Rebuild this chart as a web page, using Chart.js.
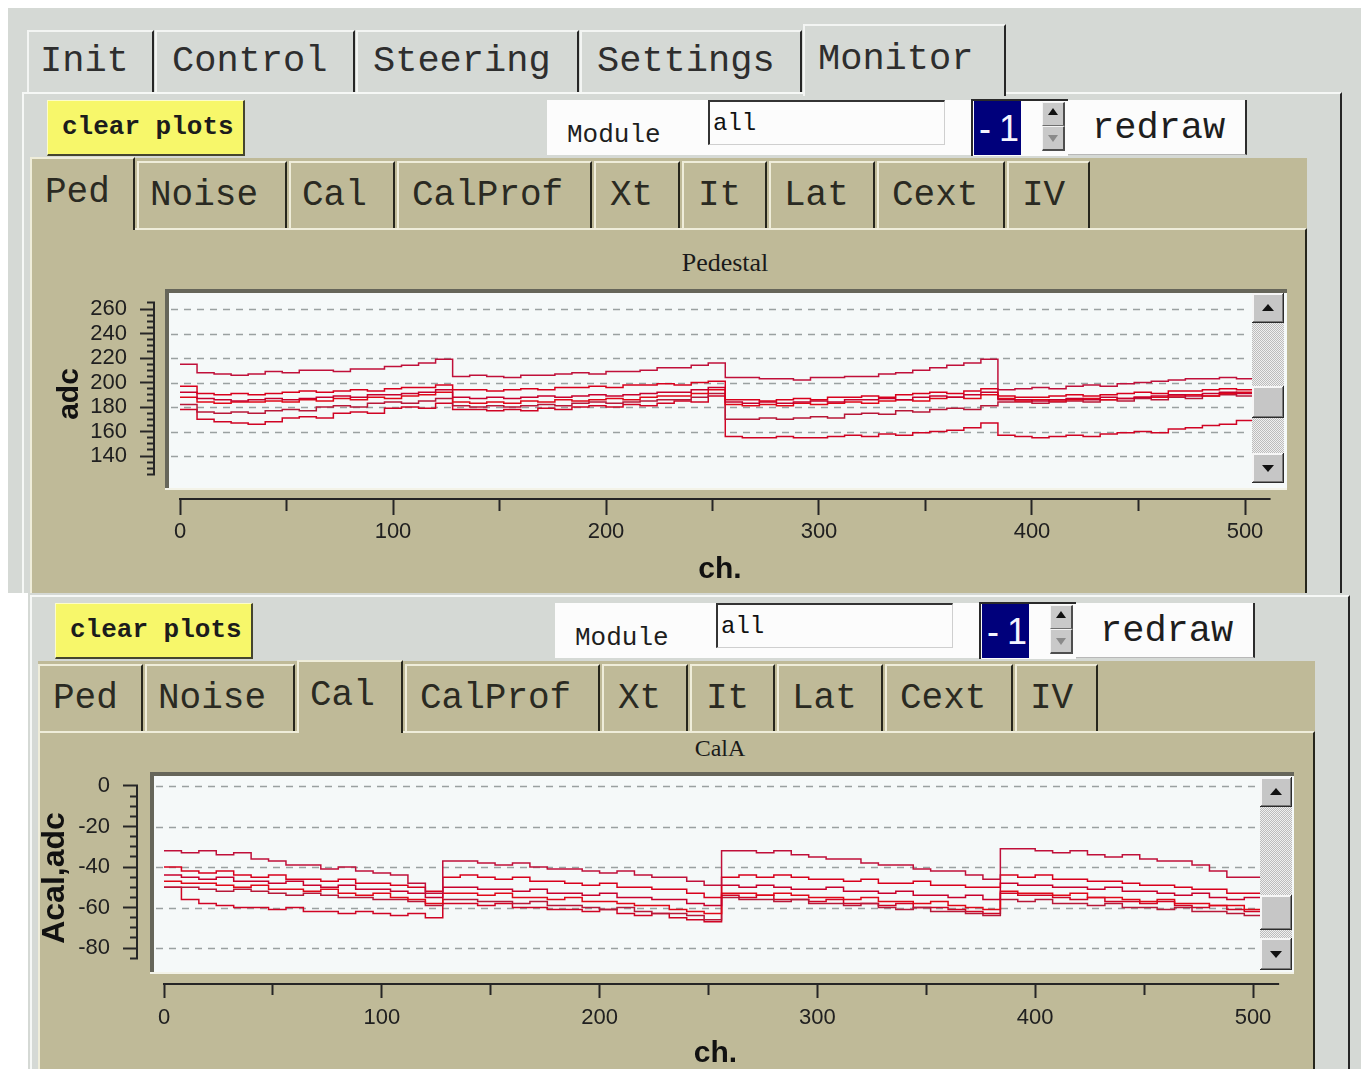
<!DOCTYPE html>
<html>
<head>
<meta charset="utf-8">
<title>Monitor - Pedestal / CalA</title>
<script src="https://cdn.jsdelivr.net/npm/chart.js@4.4.1/dist/chart.umd.min.js"></script>
<style>
  html, body { margin:0; padding:0; }
  body { width:1361px; height:1069px; overflow:hidden; position:relative; background:#ffffff;
         font-family:"Liberation Mono", monospace; color:#2b2b2b; }
  .a { position:absolute; box-sizing:border-box; }
  .t { position:absolute; white-space:nowrap; line-height:1; }
  canvas { position:absolute; }
</style>
</head>
<body>
<script>
// ---------------- data ----------------
const channels = [0,8,16,24,32,40,48,56,64,72,80,88,96,104,112,120,
  128,136,144,152,160,168,176,184,192,200,208,216,224,232,240,248,
  256,264,272,280,288,296,304,312,320,328,336,344,352,360,368,376,
  384,392,400,408,416,424,432,440,448,456,464,472,480,488,496,504,511];

// Pedestal (adc)
const ped1 = [215,208,207,206,207,209,208,210,210,209,211,211,213,214,216,219,
  205,206,205,204,206,206,207,208,207,209,209,210,212,212,214,216,
  204,204,203,203,202,204,204,205,205,207,208,210,212,214,216,219,
  194,195,196,195,197,198,197,199,200,201,202,203,203,204,203,205,204];
const ped2 = [197,191,190,191,190,191,192,193,192,193,194,193,195,196,196,198,
  194,194,193,194,195,194,196,196,197,196,198,198,199,198,200,201,
  186,186,185,186,187,186,188,188,189,188,190,191,192,191,193,195,
  189,188,188,189,190,189,190,191,192,191,193,193,194,195,194,196,196];
const ped3 = [192,187,186,185,186,187,186,187,188,189,188,190,190,191,192,194,
  188,187,188,187,188,189,188,189,190,189,190,191,192,192,194,196,
  184,183,184,183,184,185,184,186,186,187,186,188,189,188,190,192,
  186,186,185,186,187,186,188,187,188,189,190,189,191,192,191,193,193];
const ped4 = [188,184,183,184,184,185,184,186,185,187,186,188,187,189,190,192,
  184,183,184,183,185,184,186,185,186,187,186,188,189,189,191,194,
  182,181,182,181,183,182,183,184,183,185,186,185,187,188,187,190,
  187,185,186,185,186,187,186,187,188,188,189,190,189,191,192,192,191];
const ped5 = [182,176,175,176,175,177,178,177,180,181,180,183,184,183,185,187,
  181,180,181,180,181,182,181,183,184,183,184,185,186,186,188,191,
  170,170,171,170,171,172,171,174,175,174,177,176,178,179,178,181,
  184,184,183,184,185,184,186,185,187,186,188,187,189,190,189,191,190];
const ped6 = [178,170,168,167,166,168,171,172,171,175,176,175,179,180,179,183,
  178,178,177,178,177,179,178,180,181,180,182,181,183,185,184,189,
  156,155,155,156,155,155,156,157,156,158,157,159,160,161,163,167,
  157,156,155,156,157,156,158,159,160,159,162,163,165,166,169,171,172];

// CalA (Acal, adc)
const cal1 = [-32,-33,-32,-34,-33,-36,-37,-39,-39,-41,-40,-42,-43,-44,-48,-53,
  -37,-37,-38,-39,-38,-40,-41,-41,-42,-43,-42,-44,-45,-45,-47,-49,
  -32,-32,-33,-32,-34,-35,-36,-36,-38,-39,-39,-41,-42,-42,-44,-46,
  -31,-31,-32,-33,-32,-34,-35,-34,-36,-37,-37,-39,-42,-45,-45,-48,-49];
const cal2 = [-40,-42,-43,-42,-44,-45,-44,-46,-46,-47,-46,-48,-48,-49,-50,-52,
  -45,-44,-45,-46,-45,-47,-47,-48,-49,-48,-50,-50,-51,-51,-53,-55,
  -45,-44,-45,-44,-45,-46,-46,-47,-46,-48,-48,-47,-49,-49,-50,-50,
  -44,-45,-44,-46,-46,-47,-47,-48,-49,-49,-50,-51,-51,-53,-53,-54,-55];
const cal3 = [-44,-45,-46,-45,-47,-47,-48,-47,-49,-50,-49,-51,-51,-52,-53,-55,
  -50,-50,-51,-51,-52,-51,-53,-53,-54,-53,-55,-55,-56,-56,-58,-59,
  -49,-50,-49,-50,-51,-51,-50,-52,-52,-53,-52,-54,-54,-55,-54,-56,
  -48,-49,-49,-50,-50,-51,-50,-52,-52,-53,-54,-53,-55,-56,-55,-57,-58];
const cal4 = [-47,-48,-48,-49,-50,-49,-51,-51,-52,-51,-53,-54,-53,-55,-56,-58,
  -53,-53,-54,-53,-55,-55,-56,-55,-57,-57,-58,-59,-59,-61,-62,-63,
  -53,-53,-54,-53,-54,-55,-55,-56,-55,-57,-57,-58,-57,-59,-60,-61,
  -52,-53,-53,-54,-53,-55,-55,-56,-57,-56,-58,-58,-59,-59,-61,-61,-61];
const cal5 = [-50,-50,-51,-52,-51,-52,-53,-54,-53,-54,-55,-55,-56,-56,-57,-59,
  -56,-56,-57,-57,-58,-57,-59,-59,-60,-61,-60,-62,-63,-63,-64,-66,
  -55,-56,-56,-57,-56,-58,-58,-59,-58,-60,-61,-60,-62,-62,-63,-64,
  -56,-57,-56,-58,-58,-59,-58,-60,-60,-61,-60,-62,-62,-63,-64,-64,-65];
const cal6 = [-50,-56,-58,-59,-60,-60,-61,-60,-62,-62,-63,-62,-63,-64,-63,-65,
  -58,-58,-59,-58,-60,-60,-61,-61,-62,-61,-63,-64,-63,-65,-66,-67,
  -54,-55,-54,-56,-56,-57,-56,-58,-58,-59,-58,-60,-60,-61,-62,-63,
  -53,-54,-54,-55,-56,-55,-57,-57,-58,-57,-59,-60,-59,-61,-62,-62,-62];

const pedSeries = [ped1, ped2, ped3, ped4, ped5, ped6];
const calSeries = [cal1, cal2, cal3, cal4, cal5, cal6];
const lineColors = ['#c0103a', '#d8001c', '#c8002c', '#e00818', '#b81838', '#d00424'];

const xTickLabels = ['0', '100', '200', '300', '400', '500'];
const pedYTickLabels = ['140', '160', '180', '200', '220', '240', '260'];
const calYTickLabels = ['-80', '-60', '-40', '-20', '0'];

const topTabs = ['Init', 'Control', 'Steering', 'Settings', 'Monitor'];
const subTabs = ['Ped', 'Noise', 'Cal', 'CalProf', 'Xt', 'It', 'Lat', 'Cext', 'IV'];
const moduleLabel = 'Module';
const moduleValue = 'all';
const moduleIndex = '- 1';

// ---------------- GUI helpers ----------------
const GRAY = '#d5d9d5', TAN = '#bfba98', TAN_LIGHT = '#efedda', DARK = '#262626';
function box(x, y, w, h, css) {
  const d = document.createElement('div'); d.className = 'a';
  d.style.cssText = `left:${x}px;top:${y}px;width:${w}px;height:${h}px;` + (css || '');
  document.body.appendChild(d); return d;
}
function txt(s, x, y, css) {
  const d = document.createElement('div'); d.className = 't'; d.textContent = s;
  d.style.cssText = `left:${x}px;top:${y}px;` + (css || '');
  document.body.appendChild(d); return d;
}
function canvasAt(id, x, y, w, h) {
  const c = document.createElement('canvas'); c.id = id; c.width = w; c.height = h;
  c.style.cssText = `left:${x}px;top:${y}px;width:${w}px;height:${h}px;`;
  document.body.appendChild(c); return c;
}

function buildTopTabs() {
  box(8, 8, 1353, 585, 'background:' + GRAY + ';');
  const L = [27, 155, 356, 580, 803], R = [154, 355, 579, 802, 1006], TX = [40, 172, 373, 597, 818];
  topTabs.forEach((name, i) => {
    const sel = (name === 'Monitor');
    const top = sel ? 24 : 30, h = sel ? 72 : 62;
    box(L[i], top, R[i] - L[i], h, 'background:' + GRAY + ';border-top:2px solid #f3f5f3;border-left:2px solid #f3f5f3;border-right:2px solid ' + DARK + ';z-index:' + (sel ? 3 : 1) + ';');
    txt(name, TX[i], sel ? 41 : 43, 'font-size:37px;color:#2e2e2e;z-index:4;');
  });
}

function buildPanel(ox, oy, selName, bottom) {
  box(22 + ox, 92 + oy, 1320, bottom - (92 + oy), 'background:' + GRAY + ';border-top:2px solid #f6f8f6;border-left:2px solid #f6f8f6;border-right:2px solid ' + DARK + ';z-index:2;');
  // clear plots
  box(47 + ox, 100 + oy, 198, 56, 'background:#f7f76a;border-top:1px solid #fdfdc8;border-left:1px solid #fdfdc8;border-right:2px solid #45452e;border-bottom:2px solid #45452e;z-index:3;');
  txt('clear plots', 62 + ox, 114 + oy, 'font-size:26px;font-weight:bold;color:#1c1c1c;z-index:4;');
  // module selector
  box(547 + ox, 100 + oy, 425, 55, 'background:#fcfcfc;z-index:3;');
  txt(moduleLabel, 567 + ox, 122 + oy, 'font-size:26px;color:#1e1e1e;z-index:4;');
  box(708 + ox, 100 + oy, 237, 45, 'background:#fcfcfc;border-top:2px solid #333;border-left:2px solid #333;border-right:1px solid #cfcfcf;border-bottom:1px solid #cfcfcf;z-index:4;');
  txt(moduleValue, 713 + ox, 112 + oy, 'font-size:24px;color:#111;z-index:5;');
  // spin box
  box(971 + ox, 99 + oy, 97, 57, 'background:#fcfcfc;border-top:2px solid #2a2a2a;border-left:2px solid #2a2a2a;z-index:3;');
  box(974 + ox, 101 + oy, 47, 54, 'background:#00007b;z-index:4;');
  txt(moduleIndex, 979 + ox, 111 + oy, 'font-family:"Liberation Sans",sans-serif;font-size:36px;letter-spacing:-1px;color:#f4f4ff;z-index:5;');
  box(1042 + ox, 102 + oy, 23, 24, 'background:#c9c9c9;border-top:1px solid #f4f4f4;border-left:1px solid #f4f4f4;border-right:2px solid #4e4e4e;border-bottom:1px solid #6e6e6e;z-index:4;');
  box(1048 + ox, 108 + oy, 0, 0, 'border-left:5px solid transparent;border-right:5px solid transparent;border-bottom:7px solid #111;z-index:5;');
  box(1042 + ox, 126 + oy, 23, 25, 'background:#c9c9c9;border-top:1px solid #f4f4f4;border-left:1px solid #f4f4f4;border-right:2px solid #4e4e4e;border-bottom:2px solid #4e4e4e;z-index:4;');
  box(1048 + ox, 135 + oy, 0, 0, 'border-left:5px solid transparent;border-right:5px solid transparent;border-top:7px solid #8a8a8a;z-index:5;');
  // redraw
  box(1068 + ox, 100 + oy, 179, 55, 'background:#fcfcfc;border-right:2px solid #2c2c2c;border-bottom:1px solid #b8b8b8;z-index:3;');
  txt('redraw', 1092 + ox, 110 + oy, 'font-size:37px;color:#1e1e1e;z-index:4;');
  // inner tab widget
  box(30 + ox, 158 + oy, 1277, 72, 'background:' + TAN + ';z-index:3;');
  box(30 + ox, 228 + oy, 1277, bottom - (228 + oy), 'background:' + TAN + ';border-top:2px solid ' + TAN_LIGHT + ';border-left:2px solid ' + TAN_LIGHT + ';border-right:2px solid #26261c;z-index:3;');
  const L = [30, 137, 289, 397, 594, 682, 769, 877, 1007], R = [135, 287, 395, 592, 680, 767, 875, 1005, 1090];
  const TX = [45, 150, 302, 412, 610, 698, 784, 892, 1022];
  subTabs.forEach((name, i) => {
    const sel = (name === selName);
    const top = sel ? 157 : 161, h = sel ? 73 : 67;
    box(L[i] + ox, top + oy, R[i] - L[i], h, 'background:' + TAN + ';border-top:2px solid ' + TAN_LIGHT + ';border-left:2px solid ' + TAN_LIGHT + ';border-right:2px solid #26261c;z-index:' + (sel ? 5 : 4) + ';');
    txt(name, TX[i] + ox, (sel ? 175 : 178) + oy, 'font-size:36px;color:#2a2a22;z-index:6;');
  });
}

// ---------------- Chart helpers ----------------
let checker = null;
function getChecker(ctx) {
  if (!checker) {
    const p = document.createElement('canvas'); p.width = 2; p.height = 2;
    const pc = p.getContext('2d');
    pc.fillStyle = '#f0f0f0'; pc.fillRect(0, 0, 2, 2);
    pc.fillStyle = '#bcbcbc'; pc.fillRect(0, 0, 1, 1); pc.fillRect(1, 1, 1, 1);
    checker = ctx.createPattern(p, 'repeat');
  }
  return checker;
}
function bevel(c, x, y, w, h) {
  c.fillStyle = '#c6c6c6'; c.fillRect(x, y, w, h);
  c.fillStyle = '#f6f6f6'; c.fillRect(x, y, w, 2); c.fillRect(x, y, 2, h);
  c.fillStyle = '#7a7a7a'; c.fillRect(x + 1, y + h - 2, w - 1, 2); c.fillRect(x + w - 2, y + 1, 2, h - 1);
  c.fillStyle = '#2c2c2c'; c.fillRect(x, y + h - 1, w, 1); c.fillRect(x + w - 1, y, 1, h);
}
const guiFrame = {
  id: 'guiFrame',
  beforeDraw(chart, args, o) {
    const c = chart.ctx, b = o.box;
    c.save();
    c.fillStyle = '#f5f9f9'; c.fillRect(b[0], b[1], b[2] - b[0], b[3] - b[1]);
    c.fillStyle = '#66665a'; c.fillRect(b[0], b[1], b[2] - b[0], 4); c.fillRect(b[0], b[1], 4, b[3] - b[1]);
    c.fillStyle = '#f3f3e8'; c.fillRect(b[0], b[3] - 1, b[2] - b[0], 2);
    c.restore();
  },
  beforeDatasetsDraw(chart, args, o) {
    const c = chart.ctx, ys = chart.scales.y, b = o.box;
    c.save();
    c.strokeStyle = '#9aa1a1'; c.lineWidth = 1.3; c.setLineDash([7, 6]);
    ys.ticks.forEach(t => {
      if (o.gridLabels.includes(String(t.value))) {
        const py = Math.round(ys.getPixelForValue(t.value)) + 0.5;
        c.beginPath(); c.moveTo(b[0] + 6, py); c.lineTo(o.sb.x - 2, py); c.stroke();
      }
    });
    c.restore();
  },
  afterDatasetsDraw(chart, args, o) {
    const c = chart.ctx, s = o.sb;
    c.save();
    c.fillStyle = getChecker(c); c.fillRect(s.x, s.up[1], s.w, s.down[0] - s.up[1]);
    bevel(c, s.x, s.up[0], s.w, s.up[1] - s.up[0]);
    bevel(c, s.x, s.thumb[0], s.w, s.thumb[1] - s.thumb[0]);
    bevel(c, s.x, s.down[0], s.w, s.down[1] - s.down[0]);
    const cx = s.x + s.w / 2;
    c.fillStyle = '#111';
    let my = (s.up[0] + s.up[1]) / 2;
    c.beginPath(); c.moveTo(cx - 6, my + 3); c.lineTo(cx + 6, my + 3); c.lineTo(cx, my - 4); c.closePath(); c.fill();
    my = (s.down[0] + s.down[1]) / 2;
    c.beginPath(); c.moveTo(cx - 6, my - 3); c.lineTo(cx + 6, my - 3); c.lineTo(cx, my + 4); c.closePath(); c.fill();
    c.restore();
  },
  afterDraw(chart, args, o) {
    const c = chart.ctx, xs = chart.scales.x, ys = chart.scales.y;
    c.save();
    c.fillStyle = '#262626';
    const x0 = xs.getPixelForValue(0), x1 = xs.getPixelForValue(o.xAxisEnd);
    c.fillRect(x0 - 1, xs.top, x1 - x0 + 1, 2);
    const y0 = ys.getPixelForValue(o.ruler[1]), y1 = ys.getPixelForValue(o.ruler[0]);
    c.fillRect(ys.right - 2, y0, 2, y1 - y0);
    c.restore();
  }
};

function makeChart(canvas, series, cfg) {
  const datasets = series.map((vals, i) => ({
    data: channels.map((ch, k) => ({ x: ch, y: vals[k] })),
    borderColor: lineColors[i], borderWidth: 1.5, stepped: 'before',
    pointRadius: 0, fill: false, tension: 0
  }));
  const inRuler = v => v >= cfg.ruler[0] - 1e-6 && v <= cfg.ruler[1] + 1e-6;
  return new Chart(canvas, {
    type: 'line',
    data: { datasets },
    options: {
      responsive: false, animation: false, devicePixelRatio: 1,
      events: [],
      layout: { padding: { left: 0, top: cfg.padTop, right: cfg.padRight, bottom: 0 } },
      plugins: {
        legend: { display: false }, tooltip: { enabled: false }, title: { display: false },
        guiFrame: { box: cfg.box, sb: cfg.sb, gridLabels: cfg.yLabels, ruler: cfg.ruler, xAxisEnd: 512 }
      },
      scales: {
        x: {
          type: 'linear', min: cfg.xMin, max: cfg.xMax,
          afterFit: s => { s.height = cfg.xAxisH; },
          border: { display: false },
          grid: {
            drawOnChartArea: false, drawTicks: true, tickLength: cfg.xTickLen,
            tickColor: '#262626', tickWidth: 2,
            tickBorderDash: ctx => (ctx.tick && xTickLabels.includes(String(ctx.tick.value))) ? [] : [cfg.xMinorLen, 200]
          },
          ticks: {
            stepSize: 50, includeBounds: false, autoSkip: false, maxRotation: 0, minRotation: 0,
            padding: cfg.xLabelPad, color: '#202020',
            font: { family: 'Liberation Sans', size: 22 },
            callback: v => xTickLabels.includes(String(v)) ? String(v) : ''
          },
          title: {
            display: true, text: 'ch.', color: '#111',
            font: { family: 'Liberation Sans', size: 30, weight: 'bold', lineHeight: 1 },
            padding: { top: 0, bottom: cfg.xTitlePad }
          }
        },
        y: {
          type: 'linear', min: cfg.yMin, max: cfg.yMax,
          afterFit: s => { s.width = cfg.yAxisW; },
          border: { display: false },
          grid: {
            drawOnChartArea: false, drawTicks: true, tickLength: 15, tickWidth: 2,
            tickColor: ctx => (ctx.tick && inRuler(ctx.tick.value)) ? '#262626' : 'rgba(0,0,0,0)',
            tickBorderDash: ctx => (ctx.tick && cfg.yLabels.includes(String(ctx.tick.value))) ? [] : [0, 7, 8, 200]
          },
          ticks: {
            stepSize: 5, includeBounds: false, autoSkip: false,
            padding: cfg.yLabelPad, color: '#202020',
            font: { family: 'Liberation Sans', size: 22 },
            callback: v => cfg.yLabels.includes(String(v)) ? String(v) : ''
          },
          title: {
            display: true, text: cfg.yTitle, color: '#111',
            font: { family: 'Liberation Sans', size: cfg.yTitleSize, weight: 'bold', lineHeight: 1 },
            padding: { top: cfg.yTitlePad, bottom: 0 }
          }
        }
      }
    },
    plugins: [guiFrame]
  });
}

// ---------------- build page ----------------
buildTopTabs();
buildPanel(0, 0, 'Ped', 593);
txt('Pedestal', 625, 250, 'width:200px;text-align:center;font-family:"Liberation Serif",serif;font-size:26px;color:#1a1a1a;z-index:6;');
const c1 = canvasAt('pedChart', 30, 228, 1277, 365); c1.style.zIndex = 7;

// lower screenshot
box(0, 593, 1361, 476, 'background:#ffffff;z-index:8;');
box(28, 593, 1333, 476, 'background:' + GRAY + ';z-index:8;');
(function () {
  const before = document.body.children.length;
  buildPanel(8, 503, 'Cal', 1069);
  for (let i = before; i < document.body.children.length; i++) {
    const el = document.body.children[i];
    el.style.zIndex = String(10 + (parseInt(el.style.zIndex || '0', 10)));
  }
})();
txt('CalA', 620, 736, 'width:200px;text-align:center;font-family:"Liberation Serif",serif;font-size:24px;color:#1a1a1a;z-index:20;');
const c2 = canvasAt('calChart', 38, 731, 1277, 350); c2.style.zIndex = 21;

Chart.defaults.font.family = 'Liberation Sans';

// Pedestal: 260 adc at y=309, 1.225 px/adc; channel 0 at x=180, 2.13 px/channel
makeChart(c1, pedSeries, {
  padTop: 62, padRight: 22, yAxisW: 125, xAxisH: 95,
  xMin: -25 / 2.13, xMax: -25 / 2.13 + 1130 / 2.13,
  yMax: 260 + 19 / 1.225, yMin: 260 + 19 / 1.225 - 208 / 1.225,
  ruler: [125, 265], yLabels: pedYTickLabels,
  xTickLen: 17, xMinorLen: 13, xLabelPad: 4, xTitlePad: 8,
  yLabelPad: 13, yTitle: 'adc', yTitleSize: 30, yTitlePad: 24.6,
  box: [135, 61, 1257, 261],
  sb: { x: 1222, w: 32, up: [65, 95], thumb: [158, 190], down: [225, 255] }
});

// CalA: 0 at y=786, 2.025 px/unit; channel 0 at x=164, 2.178 px/channel
makeChart(c2, calSeries, {
  padTop: 42, padRight: 22, yAxisW: 100, xAxisH: 98,
  xMin: -26 / 2.178, xMax: -26 / 2.178 + 1155 / 2.178,
  yMax: 13 / 2.025, yMin: 13 / 2.025 - 210 / 2.025,
  ruler: [-85, 0], yLabels: calYTickLabels,
  xTickLen: 15, xMinorLen: 12, xLabelPad: 7, xTitlePad: 12,
  yLabelPad: 13, yTitle: 'Acal,adc', yTitleSize: 32, yTitlePad: 0.9,
  box: [112, 41, 1256, 242],
  sb: { x: 1222, w: 32, up: [46, 76], thumb: [164, 199], down: [207, 239] }
});
</script>
</body>
</html>
